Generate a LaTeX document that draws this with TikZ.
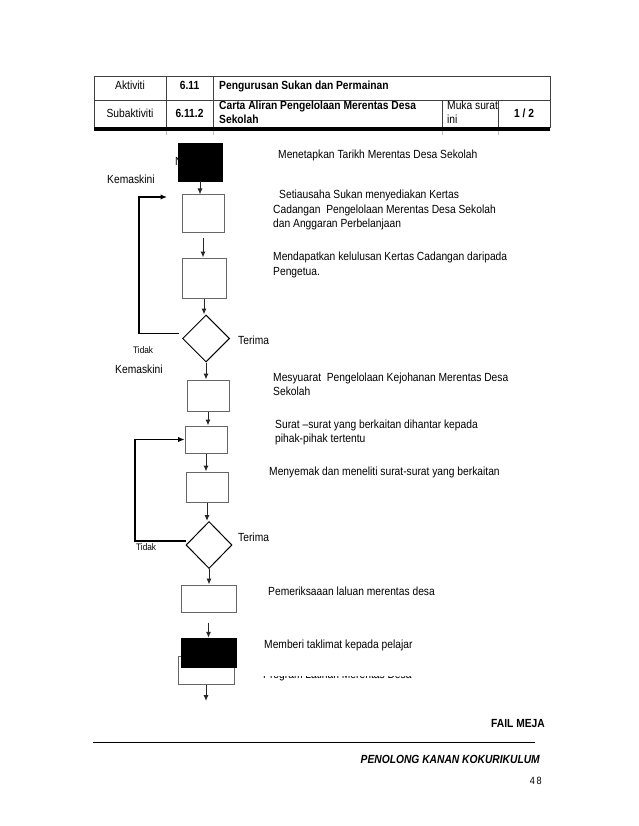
\documentclass[tikz,border=0pt]{standalone}
\usepackage{fontspec}
\setmainfont[FakeStretch=0.87]{Liberation Sans}
\usetikzlibrary{arrows.meta,shapes.geometric}
\begin{document}
\begin{tikzpicture}[x=1pt,y=-1pt,
  txt/.style={anchor=west,inner sep=0pt,text height=8pt,text depth=2.5pt,font=\fontsize{11.8}{14}\selectfont},
  small/.style={anchor=west,inner sep=0pt,text height=7pt,text depth=2pt,font=\fontsize{9.5}{11}\selectfont},
  tbl/.style={draw=black!75,line width=0.8pt},
  box/.style={draw=black!60,line width=1pt,inner sep=0pt,fill=white},
  blk/.style={draw=black,fill=black,inner sep=0pt},
  dia/.style={draw=black,line width=1pt,diamond,inner sep=0pt,minimum width=47pt,minimum height=47pt},
  arr/.style={draw=black!85,line width=1pt,-{Latex[length=6pt,width=5pt]}},
  lp/.style={draw=black,line width=1.2pt,-{Latex[length=6.5pt,width=5.5pt]}}
]
\useasboundingbox[fill=white] (0,0) rectangle (638,826);

% header table
\draw[tbl] (94,76) rectangle (550,127);
\draw[tbl] (94,100) -- (550,100);
\draw[tbl] (166,76) -- (166,127);
\draw[tbl] (213,76) -- (213,127);
\draw[tbl] (442,100) -- (442,127);
\draw[tbl] (498,100) -- (498,127);
\foreach \xx in {166,213,442,498} \draw[black!25,line width=0.6pt] (\xx,131) -- (\xx,135);
\node[txt,anchor=center] (h1) at (130,87) {Aktiviti};
\node[txt,anchor=center,font=\fontsize{11.8}{14}\selectfont\bfseries] (h2) at (189.5,87) {6.11};
\node[txt,font=\fontsize{11.8}{14}\selectfont\bfseries] (h3) at (219,87) {Pengurusan Sukan dan Permainan};
\node[txt,anchor=center] (h4) at (130,115) {Subaktiviti};
\node[txt,anchor=center,font=\fontsize{11.8}{14}\selectfont\bfseries] (h5) at (189.5,115) {6.11.2};
\node[txt,font=\fontsize{11.8}{14}\selectfont\bfseries] (h6) at (219,107) {Carta Aliran Pengelolaan Merentas Desa};
\node[txt,font=\fontsize{11.8}{14}\selectfont\bfseries] (h7) at (219,121) {Sekolah};
\node[txt] (h8) at (447,107) {Muka surat};
\node[txt] (h9) at (447,121) {ini};
\node[txt,anchor=center,font=\fontsize{11.8}{14}\selectfont\bfseries] (h10) at (524,115) {1 / 2};
\fill[black] (94,127) rectangle (550,131);

% flowchart nodes
\node[txt] (nn) at (175,163) {N};
\node[blk,minimum width=44pt,minimum height=38pt] (b1) at (200,162) {};
\node[box,minimum width=42pt,minimum height=37pt] (b2) at (203,213.5) {};
\node[box,minimum width=44pt,minimum height=40pt] (b3) at (204,278) {};
\node[dia] (d1) at (206,338.5) {};
\node[box,minimum width=42pt,minimum height=31pt] (b4) at (208,395.5) {};
\node[box,minimum width=42pt,minimum height=27pt] (b5) at (206,439.5) {};
\node[box,minimum width=42pt,minimum height=30pt] (b6) at (207,487) {};
\node[dia,minimum width=46pt] (d2) at (209,545) {};
\node[box,minimum width=55pt,minimum height=27pt] (b7) at (208.5,598.5) {};
\node[box,minimum width=56pt,minimum height=28pt] (b9) at (206,670) {};
\node[blk,minimum width=55pt,minimum height=29pt] (b8) at (208.5,652.5) {};
\coordinate (e) at (206,701);

% vertical arrows
\draw[arr] (b1.south) -- (b1.south |- b2.north);
\draw[arr,shorten <=5pt] (b2.south) -- (b2.south |- b3.north);
\draw[arr] (b3.south) -- (b3.south |- d1.north);
\draw[arr] (d1.south) -- (d1.south |- b4.north);
\draw[arr] (b4.south) -- (b4.south |- b5.north);
\draw[arr] (b5.south) -- (b5.south |- b6.north);
\draw[arr] (b6.south) -- (b6.south |- d2.north);
\draw[arr] (d2.south) -- (d2.south |- b7.north);
\draw[arr,shorten <=10pt] (b7.south) -- (b7.south |- b8.north);
\draw[arr] (b9.south) -- (b9.south |- e);

% feedback loops
\coordinate (c1) at (139,197);
\coordinate (k1) at (167,197);
\draw[lp] ([xshift=-3pt,yshift=5pt]d1.west) -| (c1) -- (k1);
\coordinate (c2) at (135,541);
\draw[lp] ([yshift=4pt]d2.west) -- (c2) |- (b5.west);

% side labels
\node[txt] (l1) at (107,181) {Kemaskini};
\node[small] (l2) at (133,351) {Tidak};
\node[txt] (l3) at (238,342) {Terima};
\node[txt] (l4) at (115,371) {Kemaskini};
\node[small] (l5) at (136,548) {Tidak};
\node[txt] (l6) at (238,539) {Terima};

% descriptions
\node[txt] (t1) at (278,156) {Menetapkan Tarikh Merentas Desa Sekolah};
\node[txt] (t2a) at (279,196) {Setiausaha Sukan menyediakan Kertas};
\node[txt] (t2b) at (273,211) {Cadangan~ Pengelolaan Merentas Desa Sekolah};
\node[txt] (t2c) at (273,225) {dan Anggaran Perbelanjaan};
\node[txt] (t3a) at (273,258) {Mendapatkan kelulusan Kertas Cadangan daripada};
\node[txt] (t3b) at (273,273) {Pengetua.};
\node[txt] (t4a) at (273,379) {Mesyuarat~ Pengelolaan Kejohanan Merentas Desa};
\node[txt] (t4b) at (273,393) {Sekolah};
\node[txt] (t5a) at (275,426) {Surat –surat yang berkaitan dihantar kepada};
\node[txt] (t5b) at (275,440) {pihak-pihak tertentu};
\node[txt] (t6) at (269,473) {Menyemak dan meneliti surat-surat yang berkaitan};
\node[txt] (t7) at (268,593) {Pemeriksaaan laluan merentas desa};
\node[txt] (t8) at (264,646) {Memberi taklimat kepada pelajar};
\begin{scope}
\clip (255,676.5) rectangle (430,682);
\node[txt] (t9) at (263,676) {Program Latihan Merentas Desa};
\end{scope}

% footer
\node[txt,anchor=east,font=\fontsize{11.8}{14}\selectfont\bfseries] (f1) at (545,725) {FAIL MEJA};
\coordinate (fl1) at (93,742);
\coordinate (fl2) at (535,742);
\draw[black,line width=0.8pt] (fl1) -- (fl2);
\node[txt,anchor=east,font=\fontsize{11.8}{14}\selectfont\bfseries\itshape] (f2) at (540,761) {PENOLONG KANAN KOKURIKULUM};
\node[txt,anchor=east,font=\fontsize{10.5}{12}\selectfont] (f3) at (542,782) {4\,8};
\end{tikzpicture}
\end{document}
